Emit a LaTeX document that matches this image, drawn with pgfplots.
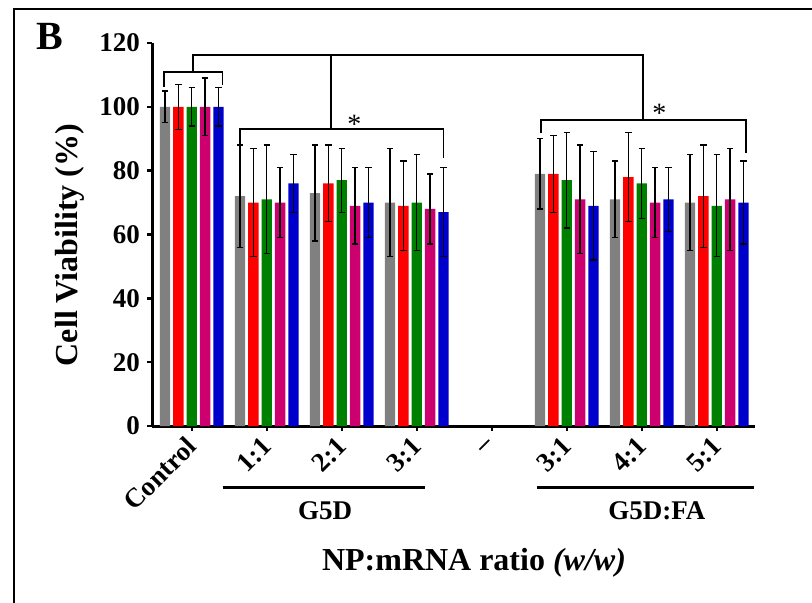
\documentclass[border=0pt]{standalone}
\usepackage{fontspec}
\setmainfont{Liberation Serif}
\usepackage{pgfplots}
\usepackage{pgfplotstable}
\pgfplotsset{compat=1.18}
\definecolor{cgray}{RGB}{128,128,128}
\definecolor{cred}{RGB}{255,0,0}
\definecolor{cgreen}{RGB}{0,128,0}
\definecolor{cmag}{RGB}{204,0,110}
\definecolor{cblue}{RGB}{0,0,204}
\pgfplotstableread{
x y e
0 100 5
1 72 16
2 73 15
3 70 17
5 79 11
6 71 12
7 70 15
}\tgray
\pgfplotstableread{
x y e
0 100 7
1 70 17
2 76 12
3 69 14
5 79 12
6 78 14
7 72 16
}\tred
\pgfplotstableread{
x y e
0 100 6
1 71 17
2 77 10
3 70 15
5 77 15
6 76 11
7 69 16
}\tgreen
\pgfplotstableread{
x y e
0 100 9
1 70 11
2 69 12
3 68 11
5 71 17
6 70 11
7 71 16
}\tmag
\pgfplotstableread{
x y e
0 100 6
1 76 9
2 70 11
3 67 14
5 69 17
6 71 10
7 70 13
}\tblue
\begin{document}
\begin{tikzpicture}
\path[use as bounding box] (0,0) rectangle (406pt,-301.5pt);
\draw[line width=1pt] (6.85pt,-310pt) -- (6.85pt,-4.75pt) -- (412pt,-4.75pt);
\node[anchor=base west, font=\bfseries\fontsize{20}{20}\selectfont, inner sep=0pt] at (18pt,-25pt) {B};
\begin{axis}[
  at={(76pt,-213pt)}, anchor=south west,
  scale only axis, width=301.5pt, height=191.5pt,
  xmin=-0.53, xmax=7.51, ymin=0, ymax=120,
  axis x line*=bottom, axis y line*=left,
  axis line style={-, line width=1.5pt},
  clip=false,
  ybar, bar width=0.138,
  xtick={0,1,2,3,4,5,6,7},
  xticklabels={Control,1:1,2:1,3:1,--,3:1,4:1,5:1},
  ytick={0,20,40,60,80,100,120},
  tick align=outside, major tick length=2.5pt,
  tick style={line width=1.2pt, black},
  /pgf/number format/assume math mode=true,
  ticklabel style={font=\bfseries\fontsize{13.5}{14}\selectfont},
  xticklabel style={xshift=2.5pt, yshift=-3pt, rotate=45, anchor=east},
  xlabel={NP:mRNA ratio \textit{(w/w)}},
  xlabel style={at={(axis description cs:0.534,-0.3577)}, anchor=center, font=\bfseries\fontsize{16}{16}\selectfont},
  ylabel={Cell Viability (\%)},
  ylabel style={at={(axis description cs:-0.136,0.4726)}, anchor=center, font=\bfseries\fontsize{16}{16}\selectfont},
  error bars/y dir=both, error bars/y explicit,
  error bars/error bar style={line width=0.65pt, black},
  error bars/error mark options={line width=0.65pt, black, mark size=1.6pt, rotate=90},
]
\addplot[fill=cgray, draw=none, bar shift=-0.356] table[x=x, y=y, y error=e] {\tgray};
\addplot[fill=cred, draw=none, bar shift=-0.178] table[x=x, y=y, y error=e] {\tred};
\addplot[fill=cgreen, draw=none, bar shift=0] table[x=x, y=y, y error=e] {\tgreen};
\addplot[fill=cmag, draw=none, bar shift=0.178] table[x=x, y=y, y error=e] {\tmag};
\addplot[fill=cblue, draw=none, bar shift=0.356] table[x=x, y=y, y error=e] {\tblue};
% significance brackets
\draw[line width=0.8pt] (axis cs:-0.369,106.3) -- (axis cs:-0.369,111) -- (axis cs:0.408,111) -- (axis cs:0.408,106.8);
\draw[line width=0.8pt] (axis cs:0.02,111) -- (axis cs:0.02,116.3) -- (axis cs:6.02,116.3) -- (axis cs:6.02,95.9);
\draw[line width=0.8pt] (axis cs:1.857,116.3) -- (axis cs:1.857,93.1);
\draw[line width=0.8pt] (axis cs:0.644,88.1) -- (axis cs:0.644,93.1) -- (axis cs:3.355,93.1) -- (axis cs:3.355,83.9);
\draw[line width=0.8pt] (axis cs:4.657,91.7) -- (axis cs:4.657,95.9) -- (axis cs:7.39,95.9) -- (axis cs:7.39,85.4);
\node[font=\fontsize{14}{14}\selectfont, inner sep=0pt] at (axis cs:2.168,94.5) {*};
\node[font=\fontsize{14}{14}\selectfont, inner sep=0pt] at (axis cs:6.235,98.0) {*};
% group lines
\draw[line width=1.5pt] (axis cs:0.413,-19.4) -- (axis cs:3.11,-19.4);
\draw[line width=1.5pt] (axis cs:4.6,-19.4) -- (axis cs:7.497,-19.4);
\node[font=\bfseries\fontsize{13.5}{14}\selectfont] at (axis cs:1.777,-26.6) {G5D};
\node[font=\bfseries\fontsize{13.5}{14}\selectfont] at (axis cs:6.2,-26.6) {G5D:FA};
\end{axis}
\end{tikzpicture}
\end{document}
